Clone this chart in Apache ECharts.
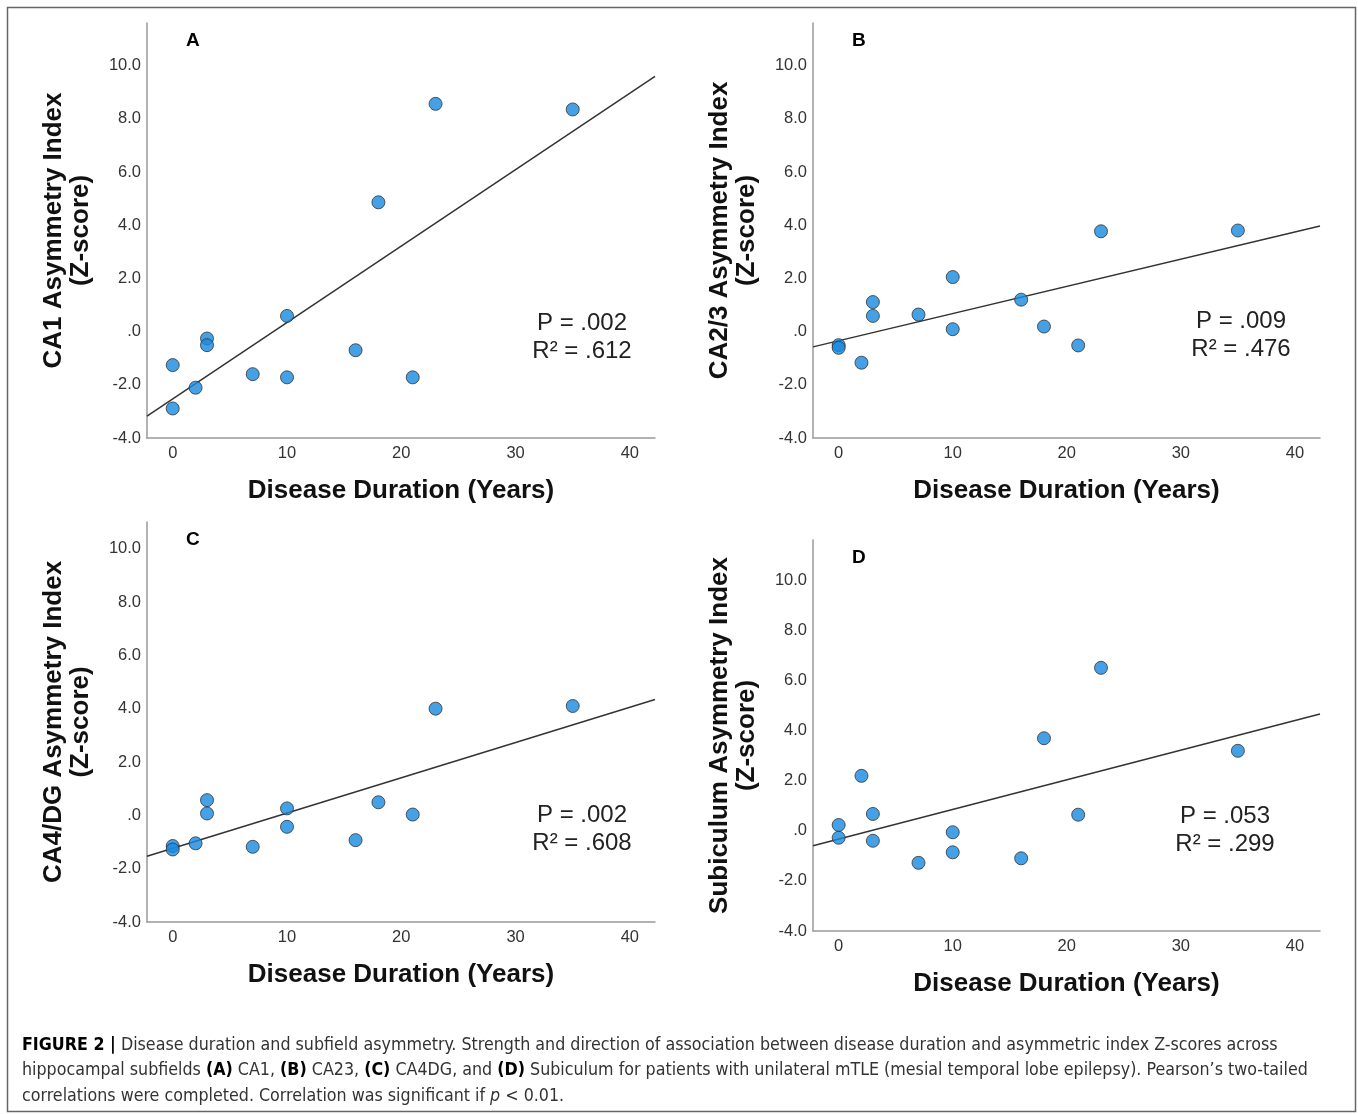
<!DOCTYPE html>
<html>
<head>
<meta charset="utf-8">
<title>Disease duration and subfield asymmetry</title>
<script src="https://cdn.jsdelivr.net/npm/echarts@6/dist/echarts.min.js"></script>
<style>
  html, body { margin: 0; padding: 0; background: #fff; }
  #chart { width: 1358px; height: 1114px; }
</style>
</head>
<body>
<div id="chart"></div>
<script>
// disease duration (years), same patients in every panel
const duration = [0, 0, 2, 3, 3, 7, 10, 10, 16, 18, 21, 23, 35];
// asymmetry index z-scores per subfield
const ca1Z   = [-1.26, -2.89, -2.11, -0.26, -0.51, -1.60, 0.59, -1.72, -0.70, 4.86, -1.72, 8.56, 8.35];
const ca23Z  = [-0.51, -0.61, -1.17, 1.11, 0.59, 0.64, 2.05, 0.09, 1.20, 0.19, -0.52, 3.77, 3.80];
const ca4dgZ = [-1.15, -1.28, -1.05, 0.57, 0.07, -1.18, 0.26, -0.43, -0.93, 0.49, 0.03, 4.00, 4.10];
const subZ   = [0.23, -0.28, 2.19, 0.67, -0.40, -1.28, -0.06, -0.86, -1.10, 3.69, 0.64, 6.50, 3.19];

const panelLetters = ['A', 'B', 'C', 'D'];
const yNames = ['CA1 Asymmetry Index', 'CA2/3 Asymmetry Index', 'CA4/DG Asymmetry Index', 'Subiculum Asymmetry Index'];
const pValues = ['.002', '.009', '.002', '.053'];
const r2Values = ['.612', '.476', '.608', '.299'];
const xTicks = [0, 10, 20, 30, 40];
const yTicks = [-4, -2, 0, 2, 4, 6, 8, 10];
const xRange = [-2.25, 42.2];
const yMaxes = [11.6, 11.6, 11.0, 11.6];

const series = [ca1Z, ca23Z, ca4dgZ, subZ];

// panel boxes (plot area)
const boxes = [
    { left: 147, top: 23, width: 508, height: 415 },
    { left: 813, top: 23, width: 507, height: 415 },
    { left: 147, top: 522, width: 508, height: 400 },
    { left: 813, top: 540, width: 507, height: 391 }
];

// least squares fit y = a + b x
function linFit(xs, ys) {
    let n = xs.length, sx = 0, sy = 0, sxx = 0, sxy = 0;
    for (let i = 0; i < n; i++) {
        sx += xs[i]; sy += ys[i];
        sxx += xs[i] * xs[i]; sxy += xs[i] * ys[i];
    }
    let b = (sxy - sx * sy / n) / (sxx - sx * sx / n);
    let a = sy / n - b * sx / n;
    return [a, b];
}

const axisFont = '"Liberation Sans", Arial, Helvetica, sans-serif';

let grids = [], xAxes = [], yAxes = [], allSeries = [], graphics = [];

series.forEach((ys, i) => {
    grids.push(boxes[i]);
    xAxes.push({
        gridIndex: i,
        type: 'value',
        min: xRange[0],
        max: xRange[1],
        name: 'Disease Duration (Years)',
        nameLocation: 'middle',
        nameGap: 40,
        nameTextStyle: { fontFamily: axisFont, fontSize: 26, fontWeight: 'bold', color: '#111' },
        axisLine: { show: true, onZero: false, lineStyle: { color: '#999', width: 1.5 } },
        axisTick: { show: false },
        splitLine: { show: false },
        axisLabel: {
            customValues: xTicks,
            margin: 7,
            fontFamily: axisFont,
            fontSize: 16.5,
            color: '#333'
        }
    });
    yAxes.push({
        gridIndex: i,
        type: 'value',
        min: -4,
        max: yMaxes[i],
        name: yNames[i] + '\n(Z-score)',
        nameLocation: 'middle',
        nameGap: 53,
        nameTextStyle: { fontFamily: axisFont, fontSize: 26, fontWeight: 'bold', color: '#111', lineHeight: 27 },
        axisLine: { show: true, onZero: false, lineStyle: { color: '#999', width: 1.5 } },
        axisTick: { show: false },
        splitLine: { show: false },
        axisLabel: {
            customValues: yTicks,
            margin: 6,
            fontFamily: axisFont,
            fontSize: 16.5,
            color: '#333',
            formatter: v => (v === 0 ? '.0' : v.toFixed(1))
        }
    });

    const fit = linFit(duration, ys);
    allSeries.push({
        type: 'line',
        xAxisIndex: i,
        yAxisIndex: i,
        data: xRange.map(x => [x, fit[0] + fit[1] * x]),
        symbol: 'none',
        silent: true,
        lineStyle: { color: '#333', width: 1.5 },
        z: 2
    });
    allSeries.push({
        type: 'scatter',
        xAxisIndex: i,
        yAxisIndex: i,
        data: duration.map((d, k) => [d, ys[k]]),
        symbolSize: 13,
        itemStyle: { color: '#1789e0', borderColor: '#333', borderWidth: 1 },
        z: 3
    });

    // panel letter and stats
    const b = boxes[i];
    graphics.push({
        type: 'text',
        left: b.left + 39,
        top: b.top + 8,
        style: { text: panelLetters[i], font: 'bold 19px ' + axisFont, fill: '#000' }
    });
    const statX = i % 2 === 0 ? 582 : (i === 1 ? 1241 : 1225);
    const statY = [323, 321, 815, 816][i];
    graphics.push({
        type: 'text',
        x: statX,
        y: statY,
        style: { text: 'P = ' + pValues[i], font: '24px ' + axisFont, fill: '#222', align: 'center', verticalAlign: 'middle' }
    });
    graphics.push({
        type: 'text',
        x: statX,
        y: statY + 28,
        style: { text: 'R\u00b2 = ' + r2Values[i], font: '24px ' + axisFont, fill: '#222', align: 'center', verticalAlign: 'middle' }
    });
});

// figure frame
graphics.push({
    type: 'rect',
    shape: { x: 7.5, y: 7.5, width: 1348, height: 1104 },
    style: { fill: 'none', stroke: '#666', lineWidth: 1.5 },
    z: -1
});

// caption
const capFont = '"Liberation Sans Narrow", "DejaVu Sans Condensed", "Roboto Condensed", Arial, sans-serif';
const capRich = {
    b: { fontFamily: capFont, fontSize: 17.7, fontWeight: 'bold', fill: '#000' },
    t: { fontFamily: capFont, fontSize: 17.7, fill: '#333' },
    i: { fontFamily: capFont, fontSize: 17.7, fontStyle: 'italic', fill: '#333' }
};
const captionLines = [
    '{b|FIGURE 2 |}{t| Disease duration and subfield asymmetry. Strength and direction of association between disease duration and asymmetric index Z-scores across}',
    '{t|hippocampal subfields }{b|(A)}{t| CA1, }{b|(B)}{t| CA23, }{b|(C)}{t| CA4DG, and }{b|(D)}{t| Subiculum for patients with unilateral mTLE (mesial temporal lobe epilepsy). Pearson\u2019s two-tailed}',
    '{t|correlations were completed. Correlation was significant if }{i|p}{t| < 0.01.}'
];
captionLines.forEach((line, k) => {
    graphics.push({
        type: 'text',
        x: 22,
        y: 1045 + k * 25.5,
        style: { text: line, rich: capRich, verticalAlign: 'middle', align: 'left' }
    });
});

const chart = echarts.init(document.getElementById('chart'), null, { renderer: 'canvas' });
chart.setOption({
    backgroundColor: '#fff',
    animation: false,
    grid: grids,
    xAxis: xAxes,
    yAxis: yAxes,
    series: allSeries,
    graphic: graphics
});
</script>
</body>
</html>
